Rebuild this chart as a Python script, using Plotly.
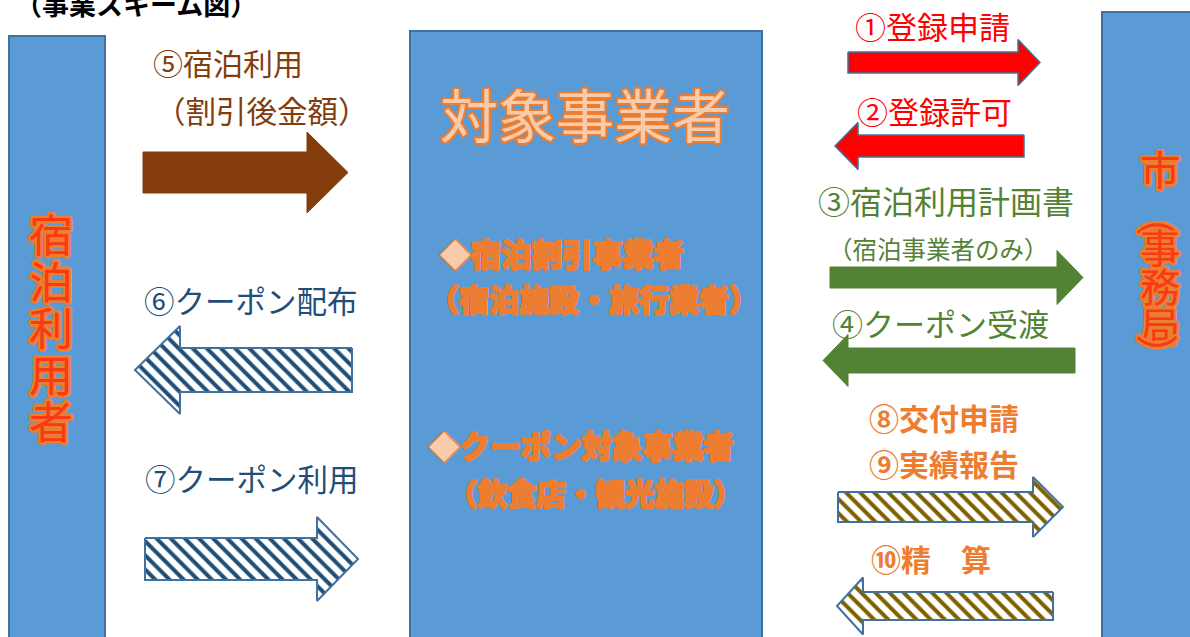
import plotly.graph_objects as go

W, H = 1190, 637
FONT = "Noto Sans CJK JP"

# ---------------- content (text) ----------------
title_text = "（事業スキーム図）"
party_names = ["宿泊利用者", "対象事業者", "市（事務局）"]
operator_types = ["宿泊割引事業者", "（宿泊施設・旅行業者）", "クーポン対象事業者", "（飲食店・観光施設）"]
step_labels = ["①登録申請", "②登録許可", "③宿泊利用計画書", "④クーポン受渡", "⑤宿泊利用",
               "⑥クーポン配布", "⑦クーポン利用", "⑧交付申請", "⑨実績報告", "⑩精　算"]
step_notes = ["（宿泊事業者のみ）", "（割引後金額）"]

# ---------------- colours ----------------
BOX_FILL = "#5B9BD5"
BOX_LINE = "#41719C"
ORANGE = "#ED7D31"
BROWN = "#843C0C"
NAVY = "#1F4E79"
GREEN = "#548235"
RED = "#FF0000"
OLIVE = "#7F6000"
PEACH = "#F8CBAD"
SIDE_TEXT = "#FA3A14"


def outline(color, w=1.0, n=16):
    import math
    pts = []
    for k in range(n):
        a = 2 * math.pi * k / n
        pts.append(f"{w * math.cos(a):.2f}px {w * math.sin(a):.2f}px 0 {color}")
    return ", ".join(pts)


fig = go.Figure()

# ---------------- boxes (layout geometry) ----------------
boxes = [  # x0, x1, y0, y1
    (9, 105, 36, 660),
    (410, 762, 31, 660),
    (1102, 1210, 12, 660),
]
for x0, x1, y0, y1 in boxes:
    fig.add_shape(type="rect", x0=x0, x1=x1, y0=y0, y1=y1, xref="x", yref="y",
                  fillcolor=BOX_FILL, line=dict(color=BOX_LINE, width=2), layer="below")

# ---------------- arrows ----------------
styles = {
    "brown": dict(fill=BROWN, line=BROWN, lw=1, pattern=None),
    "red": dict(fill=RED, line=BOX_LINE, lw=1.5, pattern=None),
    "green": dict(fill=GREEN, line=GREEN, lw=1, pattern=None),
    "navy_hatch": dict(fill="white", line=BOX_LINE, lw=2, pattern=NAVY),
    "olive_hatch": dict(fill="white", line=BOX_LINE, lw=2, pattern=OLIVE),
}

# tail x, head-base x, tip x, centre y, body half-height, head half-height, style
arrows = [
    (848, 1018, 1040, 62.5, 10.5, 23, "red"),        # ①
    (1024, 858, 835, 146, 11, 23.5, "red"),          # ②
    (830, 1057, 1083, 277.5, 10.5, 27, "green"),     # ③
    (1075, 848, 823, 360.5, 12.5, 26, "green"),      # ④
    (143, 307, 348, 172.5, 20.5, 40.5, "brown"),     # ⑤
    (352, 180, 135, 370, 22, 44, "navy_hatch"),      # ⑥
    (145, 317, 358, 559, 21, 42, "navy_hatch"),      # ⑦
    (838, 1033, 1063, 507, 15, 30, "olive_hatch"),   # ⑧⑨
    (1053, 863, 837, 606, 14, 28.5, "olive_hatch"),  # ⑩
]

for tail, base, tip, yc, bh, hh, sname in arrows:
    st = styles[sname]
    xs = [tail, base, base, tip, base, base, tail, tail]
    ys = [yc - bh, yc - bh, yc - hh, yc, yc + hh, yc + bh, yc + bh, yc - bh]
    kw = dict(x=xs, y=ys, mode="lines", fill="toself",
              line=dict(color=st["line"], width=st["lw"]),
              hoverinfo="skip", showlegend=False)
    if st["pattern"]:
        kw["fillcolor"] = "white"
        kw["fillpattern"] = dict(shape="\\", fgcolor=st["pattern"], bgcolor="white",
                                 size=10, solidity=0.4, fillmode="replace")
    else:
        kw["fillcolor"] = st["fill"]
    fig.add_trace(go.Scatter(**kw))

# ---------------- text ----------------
def txt(x, y, text, size, color, bold=False, shadow=None, angle=0):
    f = dict(family=FONT, size=size, color=color)
    if shadow:
        f["shadow"] = shadow
    fig.add_annotation(x=x, y=y, xref="x", yref="y", text=f"<b>{text}</b>" if bold else text,
                       showarrow=False, xanchor="center", yanchor="middle", font=f,
                       textangle=angle)

# title
txt(136, 3, title_text, 27, "black", bold=True)

# step labels: (label index, x, y, size, colour, bold)
label_pos = [
    (0, 932, 25, 31, RED, False),
    (1, 934, 110, 31, RED, False),
    (2, 946, 200, 32, GREEN, False),
    (3, 940, 322, 31, GREEN, False),
    (4, 228, 62, 30, BROWN, False),
    (5, 251, 300, 30.5, NAVY, False),
    (6, 252, 478, 30.5, NAVY, False),
    (7, 944, 417, 30, ORANGE, True),
    (8, 944, 463, 30, ORANGE, True),
    (9, 931, 558, 30, ORANGE, True),
]
for i, x, y, s, c, b in label_pos:
    txt(x, y, step_labels[i], s, c, bold=b)

txt(938, 248, step_notes[0], 24.5, GREEN)
txt(262, 110, step_notes[1], 30.5, BROWN)

# central box
txt(585, 113, party_names[1], 58, PEACH, shadow=outline(ORANGE, 2))
diamond = f'<span style="color:{PEACH}">◆</span>'
op_pos = [(562, 253, True, 30.5), (594, 298, False, 30), (581, 445, True, 30.5), (595, 492, False, 29.5)]
for (x, y, has_diamond, s), t in zip(op_pos, operator_types):
    label = (diamond + f"<b>{t}</b>") if has_diamond else f"<b>{t}</b>"
    fig.add_annotation(x=x, y=y, xref="x", yref="y", text=label, showarrow=False,
                       xanchor="center", yanchor="middle",
                       font=dict(family=FONT, size=s, color=ORANGE, shadow=outline(ORANGE, 1)))

# left box: vertical text as one annotation (line pitch from base size, glyphs via span)
left_lines = [f'<span style="font-size:44px">{ch}</span>' for ch in party_names[0]]
fig.add_annotation(x=51, y=326, xref="x", yref="y", text="<br>".join(left_lines),
                   showarrow=False, xanchor="center", yanchor="middle", align="center",
                   font=dict(family=FONT, size=46.7 / 1.3, color=SIDE_TEXT,
                             shadow=outline(ORANGE, 2.5)))

# right box: one character per cell; brackets turned 90 degrees like vertical writing
y_cell = 168
for ch in party_names[2]:
    if ch == "（":
        txt(1160, y_cell + 8, ch, 42, SIDE_TEXT, shadow=outline(ORANGE, 2.5), angle=90)
    elif ch == "）":
        txt(1160, y_cell - 8, ch, 42, SIDE_TEXT, shadow=outline(ORANGE, 2.5), angle=90)
    else:
        txt(1160, y_cell, ch, 40, SIDE_TEXT, shadow=outline(ORANGE, 2.5))
    y_cell += 39

fig.update_layout(
    width=W, height=H, autosize=False,
    margin=dict(l=0, r=0, t=0, b=0),
    paper_bgcolor="white", plot_bgcolor="white",
    xaxis=dict(range=[0, W], visible=False, fixedrange=True),
    yaxis=dict(range=[H, 0], visible=False, fixedrange=True),
    showlegend=False,
)

fig.write_html("out.html", config={"displayModeBar": False},
               post_script="document.body.style.margin='0px';document.body.style.overflow='hidden';")
